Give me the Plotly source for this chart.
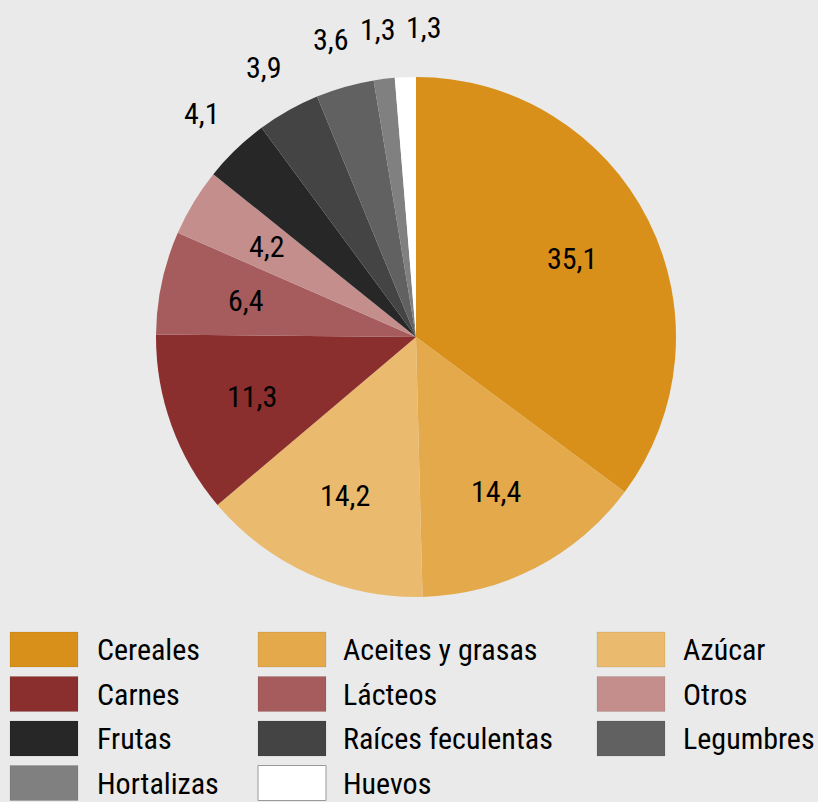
import math
import plotly.graph_objects as go

categories = ["Cereales", "Aceites y grasas", "Azúcar", "Carnes", "Lácteos", "Otros",
              "Frutas", "Raíces feculentas", "Legumbres", "Hortalizas", "Huevos"]
values = [35.1, 14.4, 14.2, 11.3, 6.4, 4.2, 4.1, 3.9, 3.6, 1.3, 1.3]
colors = ["#D9901A", "#E3A94B", "#EABB6E", "#8B2E2E", "#A65C5C", "#C48E8C",
          "#272727", "#444444", "#616161", "#808080", "#FFFFFF"]
label_inside = [True] * 6 + [False] * 5

FONT = "Roboto Condensed, Roboto, sans-serif"
W, H = 818, 802
BG = "#EAEAEA"
CX, CY, R = 416, 337, 260          # pie centre / radius in pixels
R_IN, R_OUT = 0.67, 1.19           # label distance factors

fig = go.Figure()
fig.add_trace(go.Pie(
    labels=categories,
    values=values,
    sort=False,
    direction="clockwise",
    rotation=0,
    marker=dict(colors=colors, line=dict(width=0)),
    textinfo="none",
    showlegend=False,
    hoverinfo="label+value",
    domain=dict(x=[(CX - R) / W, (CX + R) / W], y=[1 - (CY + R) / H, 1 - (CY - R) / H]),
))

annotations = []
label_font = dict(family=FONT, size=30, color="#000")

# value labels placed along each slice's mid-angle
total = sum(values)
cum = 0.0
out_labels = []
for v, inside in zip(values, label_inside):
    mid = (cum + v / 2) / total * 2 * math.pi
    cum += v
    f = R_IN if inside else R_OUT
    px = CX + R * f * math.sin(mid)
    py = CY - R * f * math.cos(mid)
    txt = f"{v:.1f}".replace(".", ",")
    if inside:
        annotations.append(dict(text=txt, xref="paper", yref="paper",
                                x=px / W, y=1 - py / H, showarrow=False,
                                xanchor="center", yanchor="middle", font=label_font))
    else:
        out_labels.append([px, py, txt])

# keep outside labels from overlapping (left-to-right sweep)
MIN_SEP = 46
for i in range(1, len(out_labels)):
    if out_labels[i][0] < out_labels[i - 1][0] + MIN_SEP:
        out_labels[i][0] = out_labels[i - 1][0] + MIN_SEP
for px, py, txt in out_labels:
    annotations.append(dict(text=txt, xref="paper", yref="paper",
                            x=px / W, y=1 - py / H, showarrow=False,
                            xanchor="center", yanchor="middle", font=label_font))

# legend drawn as swatches + labels (3 columns, row-major in data order)
sw_x = [10, 258, 597]
sw_w = 68
txt_x = [96, 342, 682]
row_top = 632
row_pitch = 44.5
sw_h = 35
shapes = []
for i, (cat, col) in enumerate(zip(categories, colors)):
    r, c = divmod(i, 3)
    y0 = row_top + r * row_pitch
    shapes.append(dict(
        type="rect", xref="paper", yref="paper",
        x0=sw_x[c] / W, x1=(sw_x[c] + sw_w) / W,
        y0=1 - (y0 + sw_h) / H, y1=1 - y0 / H,
        fillcolor=col,
        line=dict(color="#9A9A9A" if col == "#FFFFFF" else "rgba(0,0,0,0.08)", width=1),
    ))
    annotations.append(dict(
        text=cat, xref="paper", yref="paper",
        x=txt_x[c] / W, y=1 - (y0 + sw_h / 2) / H,
        xanchor="left", yanchor="middle", showarrow=False, borderpad=0,
        font=dict(family=FONT, size=30, color="#000000"),
    ))

fig.update_layout(
    width=W, height=H,
    margin=dict(l=0, r=0, t=0, b=0),
    paper_bgcolor=BG, plot_bgcolor=BG,
    shapes=shapes,
    annotations=annotations,
)

fig.write_html("out.html", config={"displayModeBar": False},
               post_script="document.body.style.margin='0';document.body.style.overflow='hidden';")
